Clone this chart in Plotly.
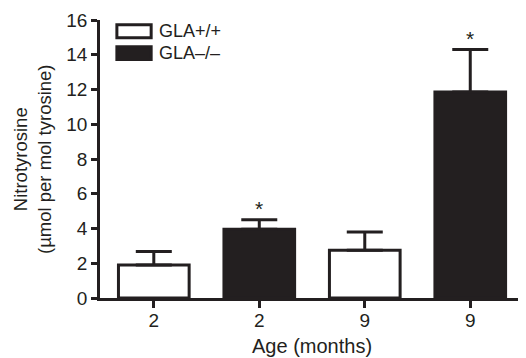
import plotly.graph_objects as go

positions = [0, 1, 2, 3]
tick_labels = ["2", "2", "9", "9"]
groups = ["GLA+/+", "GLA\u2013/\u2013", "GLA+/+", "GLA\u2013/\u2013"]
means = [1.9, 3.95, 2.75, 11.85]
sem = [0.78, 0.55, 1.05, 2.45]
significant = [False, True, False, True]

ink = "#231f20"
font = "Liberation Sans, Arial, Helvetica, sans-serif"

fig = go.Figure()
for grp, fill in [("GLA+/+", "white"), ("GLA\u2013/\u2013", ink)]:
    idx = [i for i, g in enumerate(groups) if g == grp]
    fig.add_trace(go.Bar(
        x=[positions[i] for i in idx],
        y=[means[i] for i in idx],
        name=grp,
        width=0.67,
        marker=dict(color=fill, line=dict(color=ink, width=3)),
        error_y=dict(type="data", symmetric=False,
                     array=[sem[i] for i in idx],
                     arrayminus=[0 for _ in idx],
                     color=ink, thickness=3, width=18),
        showlegend=False,
    ))

for i, s in enumerate(significant):
    if s:
        fig.add_annotation(x=positions[i], y=means[i] + sem[i], text="*",
                           showarrow=False, yanchor="bottom", yshift=-2,
                           font=dict(size=21, color=ink, family=font))

# custom legend (wide swatches)
legend_items = [("GLA+/+", "white", 15.72, 14.98), ("GLA\u2013/\u2013", ink, 14.46, 13.72)]
for lab, fill, top, bot in legend_items:
    fig.add_shape(type="rect", xref="x", yref="y",
                  x0=-0.35, x1=-0.025, y0=bot, y1=top,
                  fillcolor=fill, line=dict(color=ink, width=3))
    fig.add_annotation(xref="x", yref="y", x=0.03, y=(top + bot) / 2, text=lab,
                       showarrow=False, xanchor="left", yanchor="middle",
                       font=dict(size=18, color=ink, family=font))

# y-axis title (two lines, rotated)
fig.add_annotation(xref="paper", yref="paper", x=0, y=0.5, xshift=-68,
                   text="Nitrotyrosine<br>(\u00b5mol per mol tyrosine)",
                   textangle=-90, showarrow=False, xanchor="center", yanchor="middle",
                   font=dict(size=18.5, color=ink, family=font))

# x-axis title
fig.add_annotation(xref="paper", yref="paper", x=0.5, y=0, yshift=-48,
                   text="Age (months)", showarrow=False,
                   xanchor="center", yanchor="middle",
                   font=dict(size=20, color=ink, family=font))

# page body has an 8px default margin, so the figure is 8px smaller
fig.update_layout(
    width=518, height=350,
    margin=dict(l=92, r=3, t=12, b=60),
    plot_bgcolor="white", paper_bgcolor="white",
    barmode="overlay",
    font=dict(family=font, size=19, color=ink),
    xaxis=dict(range=[-0.51, 3.5], tickmode="array", tickvals=positions,
               ticktext=tick_labels, showline=True, linecolor=ink, linewidth=2.5,
               ticks="outside", ticklen=7, tickwidth=2.5, tickcolor=ink,
               showgrid=False, zeroline=False, ticklabelstandoff=-4,
               tickfont=dict(size=19)),
    yaxis=dict(range=[0, 16], dtick=2, showline=True, linecolor=ink, linewidth=2.5,
               ticks="outside", ticklen=6, tickwidth=2.5, tickcolor=ink,
               showgrid=False, zeroline=False,
               tickfont=dict(size=19)),
)

fig.write_html("out.html")
